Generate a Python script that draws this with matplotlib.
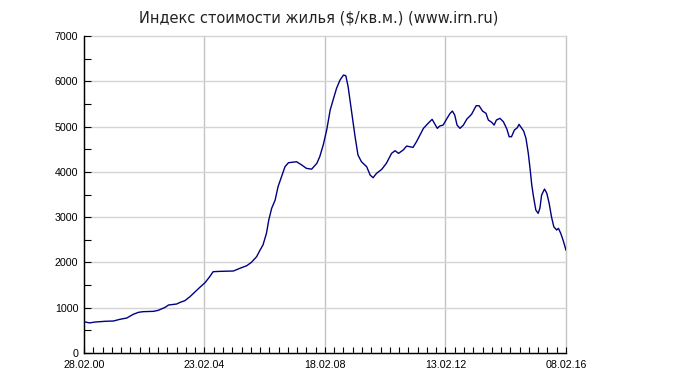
import matplotlib
matplotlib.use('Agg')
import matplotlib.pyplot as plt
from matplotlib.ticker import MultipleLocator, FixedLocator

# weeks since 28.02.00 and index value ($/sq.m.)
weeks = [0, 10, 19, 36, 51, 62, 74, 85, 94, 102, 120, 128, 140, 146, 160, 166, 174,
         183, 192, 200, 209, 217, 223, 235, 258, 269, 281, 289, 298, 304, 309, 315,
         319, 324, 330, 335, 341, 347, 353, 367, 376, 384, 393, 402, 407, 413, 419,
         425, 430, 436, 442, 448, 452, 456, 462, 468, 473, 479, 488, 494, 499, 505,
         514, 522, 531, 537, 543, 551, 557, 568, 574, 580, 586, 594, 601, 605, 610,
         614, 620, 626, 632, 636, 640, 644, 649, 655, 661, 669, 677, 682, 688, 694,
         698, 704, 708, 712, 718, 724, 730, 734, 738, 743, 748, 751, 755, 759, 763,
         767, 770, 773, 776, 780, 784, 787, 790, 795, 799, 803, 807, 811, 816, 819,
         823, 827, 832]
values = [690, 665, 684, 700, 707, 744, 773, 854, 898, 913, 920, 942, 1008, 1060, 1082,
          1119, 1155, 1244, 1354, 1450, 1553, 1685, 1796, 1803, 1811, 1870, 1928, 2002,
          2127, 2274, 2385, 2643, 2937, 3195, 3378, 3672, 3893, 4114, 4202, 4224, 4151,
          4078, 4060, 4189, 4335, 4593, 4924, 5365, 5586, 5845, 6028, 6138, 6123, 5880,
          5328, 4776, 4372, 4224, 4114, 3930, 3871, 3967, 4056, 4189, 4409, 4467, 4409,
          4482, 4570, 4541, 4666, 4813, 4961, 5071, 5160, 5071, 4961, 5012, 5034, 5167,
          5292, 5343, 5255, 5034, 4961, 5034, 5167, 5270, 5461, 5461, 5343, 5292, 5145,
          5093, 5034, 5145, 5182, 5108, 4946, 4776, 4776, 4924, 4975, 5049, 4975, 4902,
          4740, 4409, 4078, 3709, 3451, 3157, 3084, 3195, 3489, 3621, 3526, 3305, 3010,
          2789, 2716, 2753, 2643, 2495, 2274]

tick_weeks = [0, 208, 416, 624, 832]
tick_labels = ['28.02.00', '23.02.04', '18.02.08', '13.02.12', '08.02.16']

fig = plt.figure(figsize=(6.86, 3.78), dpi=100)
ax = fig.add_axes([0.1224, 0.0661, 0.7026, 0.8386])

ax.plot(weeks, values, color='#000080', lw=1.0, zorder=3)

ax.set_xlim(0, 832)
ax.set_ylim(0, 7000)
ax.xaxis.set_major_locator(FixedLocator(tick_weeks))
ax.set_xticklabels(tick_labels)
ax.xaxis.set_minor_locator(MultipleLocator(16))
ax.yaxis.set_major_locator(MultipleLocator(1000))
ax.yaxis.set_minor_locator(MultipleLocator(500))

ax.grid(True, axis='y', which='major', color='#d4d4d4', lw=1.0)
ax.grid(True, axis='x', which='major', color='#c4c4c4', lw=1.0)
ax.set_axisbelow(True)
# keep the edge gridlines (7000 and 08.02.16) fully visible
for gl in ax.xaxis.get_gridlines() + ax.yaxis.get_gridlines():
    gl.set_clip_on(False)

for s in ['top', 'right']:
    ax.spines[s].set_visible(False)
for s in ['left', 'bottom']:
    ax.spines[s].set_color('black')
    ax.spines[s].set_linewidth(1.0)

ax.tick_params(axis='y', which='both', direction='in', length=5, width=0.8,
               color='black', pad=4)
ax.tick_params(axis='x', which='both', direction='in', length=4, width=0.8,
               color='black', pad=5)
for lab in ax.get_xticklabels() + ax.get_yticklabels():
    lab.set_fontfamily('Liberation Sans')
    lab.set_fontsize(7.7)

fig.text(0.465, 0.952, 'Индекс стоимости жилья ($/кв.м.) (www.irn.ru)',
         ha='center', va='center', fontsize=10.5, family='DejaVu Sans', color='#222222')

fig.savefig('out.png', dpi=100)
